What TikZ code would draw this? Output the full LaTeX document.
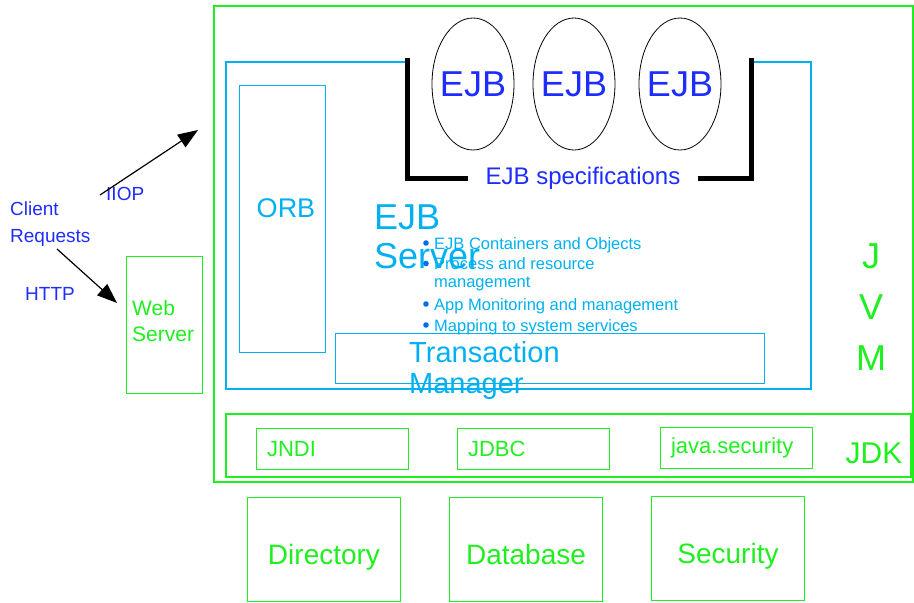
\documentclass[tikz,border=0pt]{standalone}
\usepackage{fontspec}
\setmainfont{Liberation Sans}
\usetikzlibrary{arrows.meta,shapes.geometric}

\definecolor{jvmgreen}{RGB}{30,240,30}
\definecolor{srvcyan}{RGB}{0,176,240}
\definecolor{reqblue}{RGB}{30,45,255}
\definecolor{dotblue}{RGB}{0,110,240}
\newcommand{\fsz}[2]{\fontsize{#1}{#2}\selectfont}

\begin{document}
\begin{tikzpicture}[x=1pt,y=-1pt,
    txt/.style={inner sep=0pt, align=left},
    greenline/.style={draw=jvmgreen, line width=0.9pt},
    cyanline/.style={draw=srvcyan, line width=0.9pt},
    libbox/.style={greenline, minimum width=152pt, minimum height=41pt,
      text width=130pt, inner xsep=11pt, align=left, text=jvmgreen, font=\fsz{22}{24}},
    resbox/.style={greenline, minimum width=153pt, minimum height=104pt,
      text height=30pt, text depth=0pt, text=jvmgreen, font=\fsz{28}{30}},
    bean/.style={ellipse, draw, line width=0.8pt, minimum width=82pt, minimum height=132pt,
      inner sep=0pt},
    item/.style={txt, anchor=base west, text=srvcyan, font=\fsz{16.5}{17.5}},
    req/.style={-{Triangle[length=20pt,width=15pt]}, line width=1.2pt}]
  \useasboundingbox (0,0) rectangle (914,603);

  % JVM and EJB server frames
  \draw[greenline, line width=2pt] (214,6) rectangle (913,482);
  \draw[cyanline, line width=2pt] (405,62) -- (226,62) -- (226,389)
    -- (811,389) -- (811,62) -- (752,62);

  % beans and specification bracket
  \foreach \x [count=\i] in {473,574,680}
    \node[bean, label={[text=reqblue, font=\fsz{36}{40}]center:EJB}] (ejb\i) at (\x,84) {};
  \node[txt, inner xsep=17pt, text=reqblue, font=\fsz{24}{26}] (spec) at (583,178)
    {EJB specifications};
  \draw[line width=5pt] (spec.west) -- (407,178) -- (407,58);
  \draw[line width=5pt] (spec.east) -- (751,178) -- (751,58);

  % server contents
  \draw[cyanline] (239,85) rectangle (325,352);
  \node[txt, text=srvcyan, font=\fsz{27}{29}] (orb) at (286,208) {ORB};
  \node[txt, anchor=base west, text=srvcyan, font=\fsz{36}{39}] (server)
    at (374,268) {EJB\\Server};

  \node[item] (item1) at (434,249) {EJB Containers and Objects};
  \node[item] (item2) at (434,287) {Process and resource\\management};
  \node[item] (item3) at (434,310) {App Monitoring and management};
  \node[item] (item4) at (434,331) {Mapping to system services};
  \foreach \i/\dy in {1/6,2/23.5,3/6,4/6}
    \fill[dotblue] (item\i.base west) ++(-8,-\dy) circle [radius=2.8pt];

  \draw[cyanline] (335,333) rectangle (764,383);
  \node[txt, anchor=base west, text=srvcyan, font=\fsz{29}{31}] (txmgr)
    at (409,393) {Transaction\\Manager};

  \node[txt, align=center, text=jvmgreen, font=\fsz{36}{51}] (jvm) at (871,307)
    {J\\V\\M};

  % JDK libraries
  \draw[greenline, line width=2.5pt] (226,414) rectangle (911,477);
  \node[libbox] (jndi) at (332,449) {JNDI};
  \node[libbox] (jdbc) at (533,449) {JDBC};
  \node[libbox] (jsec) at (736,448) {java.security};
  \node[txt, text=jvmgreen, font=\fsz{30}{32}] (jdk) at (874,453) {JDK};

  % resources
  \node[resbox] (dir) at (324,549) {Directory};
  \node[resbox] (db) at (526,549) {Database};
  \node[resbox] (sec) at (728,548) {Security};

  % clients
  \draw[greenline] (126,256) rectangle (202,393);
  \node[txt, anchor=base west, text=jvmgreen, font=\fsz{21}{26}] (web)
    at (132,341) {Web\\Server};
  \node[txt, anchor=base west, text=reqblue, font=\fsz{19}{27}] (client)
    at (10,242) {Client\\Requests};
  \node[txt, anchor=base west, text=reqblue, font=\fsz{19}{21}] (iiop)
    at (106,200) {IIOP};
  \node[txt, anchor=base west, text=reqblue, font=\fsz{19}{21}] (http)
    at (25,300) {HTTP};
  \coordinate (iiop from) at (100,195);
  \coordinate (iiop to) at (198,130);
  \coordinate (http from) at (57,249);
  \coordinate (http to) at (117,303);
  \draw[req] (iiop from) -- (iiop to);
  \draw[req] (http from) -- (http to);
\end{tikzpicture}
\end{document}
